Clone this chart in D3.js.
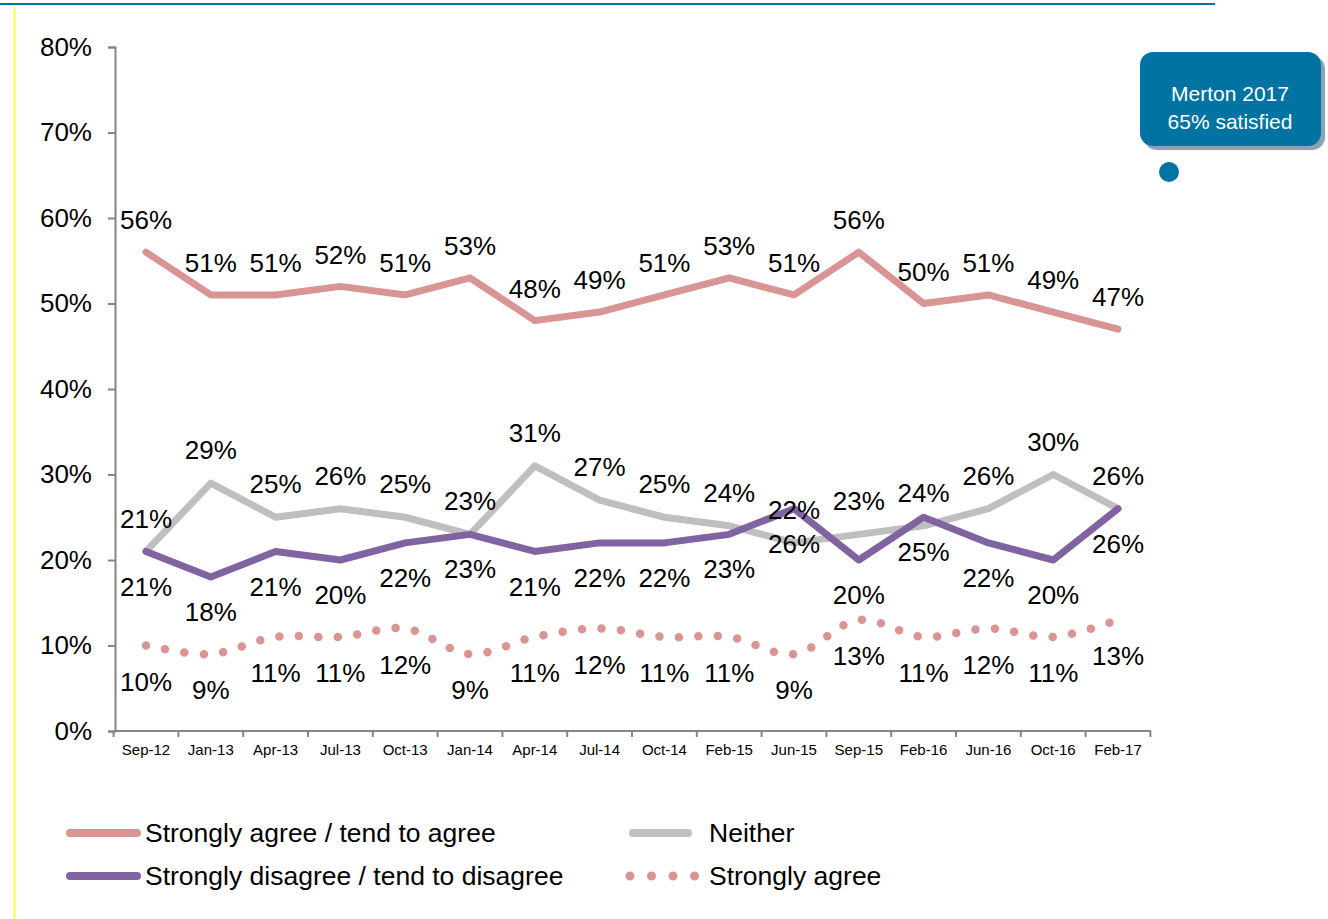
<!DOCTYPE html>
<html>
<head>
<meta charset="utf-8">
<script src="https://cdn.jsdelivr.net/npm/d3@7"></script>
<style>
  body { margin: 0; background: #fff; }
  text { font-family: "Liberation Sans", Arial, sans-serif; }
</style>
</head>
<body>
<div id="graph"></div>
<script>
// data
var categories = ["Sep-12","Jan-13","Apr-13","Jul-13","Oct-13","Jan-14","Apr-14","Jul-14",
                  "Oct-14","Feb-15","Jun-15","Sep-15","Feb-16","Jun-16","Oct-16","Feb-17"];
var agree         = [56,51,51,52,51,53,48,49,51,53,51,56,50,51,49,47];
var neither       = [21,29,25,26,25,23,31,27,25,24,22,23,24,26,30,26];
var disagree      = [21,18,21,20,22,23,21,22,22,23,26,20,25,22,20,26];
var stronglyAgree = [10,9,11,11,12,9,11,12,11,11,9,13,11,12,11,13];
var yTicks = [0,10,20,30,40,50,60,70,80];

var W = 1328, H = 919;
var svg = d3.select("#graph").append("svg").attr("width", W).attr("height", H);

// frame decorations
svg.append("line").attr("x1", 0).attr("x2", 1215).attr("y1", 4).attr("y2", 4)
   .attr("stroke", "#0072a3").attr("stroke-width", 2);
svg.append("line").attr("x1", 14.5).attr("x2", 14.5).attr("y1", 7).attr("y2", 919)
   .attr("stroke", "#ffff00").attr("stroke-width", 1.5);

var x = d3.scaleBand().domain(categories).range([113.6, 1150.4]);
var y = d3.scaleLinear().domain([0, 80]).range([731, 47]);
var cx = function(i) { return x(categories[i]) + x.bandwidth() / 2; };

// y axis
var yAxis = svg.append("g").attr("transform", "translate(115,0)")
   .call(d3.axisLeft(y).tickValues(yTicks).tickSize(7).tickFormat(function(d){ return d + "%"; }));
yAxis.select(".domain").attr("stroke", "#868686").attr("stroke-width", 2);
yAxis.selectAll(".tick line").attr("stroke", "#868686").attr("stroke-width", 2);
yAxis.selectAll(".tick text").attr("font-size", 26).attr("fill", "#000").attr("x", -23)
     .attr("font-family", "Liberation Sans, Arial, sans-serif");

// x axis (ticks at category boundaries)
var xg = svg.append("g");
xg.append("line").attr("x1", 114).attr("x2", 1151).attr("y1", 731).attr("y2", 731)
  .attr("stroke", "#868686").attr("stroke-width", 2);
var bounds = categories.map(function(c){ return x(c); }).concat([x.range()[1]]);
xg.selectAll(".xt").data(bounds).enter().append("line")
  .attr("x1", function(d){ return d; }).attr("x2", function(d){ return d; })
  .attr("y1", 731).attr("y2", 737).attr("stroke", "#868686").attr("stroke-width", 2);
xg.selectAll(".xl").data(categories).enter().append("text")
  .attr("x", function(d, i){ return cx(i); }).attr("y", 755)
  .attr("text-anchor", "middle").attr("font-size", 15).attr("fill", "#000")
  .text(function(d){ return d; });

// series
var series = [
  { name: "Neither", values: neither, color: "#bfbfbf", dy: -33, dotted: false },
  { name: "Strongly disagree / tend to disagree", values: disagree, color: "#8064a2", dy: 35, dotted: false },
  { name: "Strongly agree / tend to agree", values: agree, color: "#d99594", dy: -32, dotted: false },
  { name: "Strongly agree", values: stronglyAgree, color: "#d99594", dy: 36, dotted: true }
];

series.forEach(function(s) {
  var line = d3.line()
    .x(function(d, i){ return cx(i); })
    .y(function(d){ return y(d); })
    .curve(s.dotted ? d3.curveCatmullRom.alpha(0.5) : d3.curveLinear);
  var p = svg.append("path").datum(s.values).attr("d", line)
    .attr("fill", "none").attr("stroke", s.color)
    .attr("stroke-linejoin", "round");
  if (s.dotted) {
    p.attr("stroke-width", 8.5).attr("stroke-linecap", "round").attr("stroke-dasharray", "0 19.5");
  } else {
    p.attr("stroke-width", 7).attr("stroke-linecap", "round");
  }
});

// data labels
series.forEach(function(s) {
  svg.append("g").selectAll("text").data(s.values).enter().append("text")
    .attr("x", function(d, i){ return cx(i); })
    .attr("y", function(d){ return y(d) + s.dy; })
    .attr("dy", "0.35em")
    .attr("text-anchor", "middle").attr("font-size", 26).attr("fill", "#000")
    .text(function(d){ return d + "%"; });
});

// callout
var call = svg.append("g");
call.append("rect").attr("x", 1144).attr("y", 56).attr("width", 181).attr("height", 94)
  .attr("rx", 13).attr("fill", "#8ea3b0");
call.append("rect").attr("x", 1140).attr("y", 52).attr("width", 181).attr("height", 94)
  .attr("rx", 13).attr("fill", "#0073a3");
call.append("text").attr("x", 1230).attr("y", 101).attr("text-anchor", "middle")
  .attr("font-size", 21).attr("fill", "#fff").text("Merton 2017");
call.append("text").attr("x", 1230).attr("y", 129).attr("text-anchor", "middle")
  .attr("font-size", 21).attr("fill", "#fff").text("65% satisfied");
call.append("circle").attr("cx", 1169).attr("cy", 172).attr("r", 10).attr("fill", "#0073a3");

// legend
var legend = [
  { name: "Strongly agree / tend to agree", color: "#d99594", dotted: false, x: 67, y: 833 },
  { name: "Neither", color: "#bfbfbf", dotted: false, x: 630, y: 833 },
  { name: "Strongly disagree / tend to disagree", color: "#8064a2", dotted: false, x: 67, y: 876 },
  { name: "Strongly agree", color: "#d99594", dotted: true, x: 630, y: 876 }
];
legend.forEach(function(l) {
  var g = svg.append("g");
  if (l.dotted) {
    g.append("line").attr("x1", l.x).attr("x2", l.x + 66).attr("y1", l.y).attr("y2", l.y)
      .attr("stroke", l.color).attr("stroke-width", 9).attr("stroke-linecap", "round")
      .attr("stroke-dasharray", "0 21.5");
  } else {
    g.append("line").attr("x1", l.x + 3).attr("x2", l.x + (l.x < 100 ? 70 : 58)).attr("y1", l.y).attr("y2", l.y)
      .attr("stroke", l.color).attr("stroke-width", 8).attr("stroke-linecap", "round");
  }
  g.append("text").attr("x", l.x < 100 ? 145 : 709).attr("y", l.y).attr("dy", "0.35em")
    .attr("font-size", 26.5).attr("fill", "#000").text(l.name);
});
</script>
</body>
</html>
